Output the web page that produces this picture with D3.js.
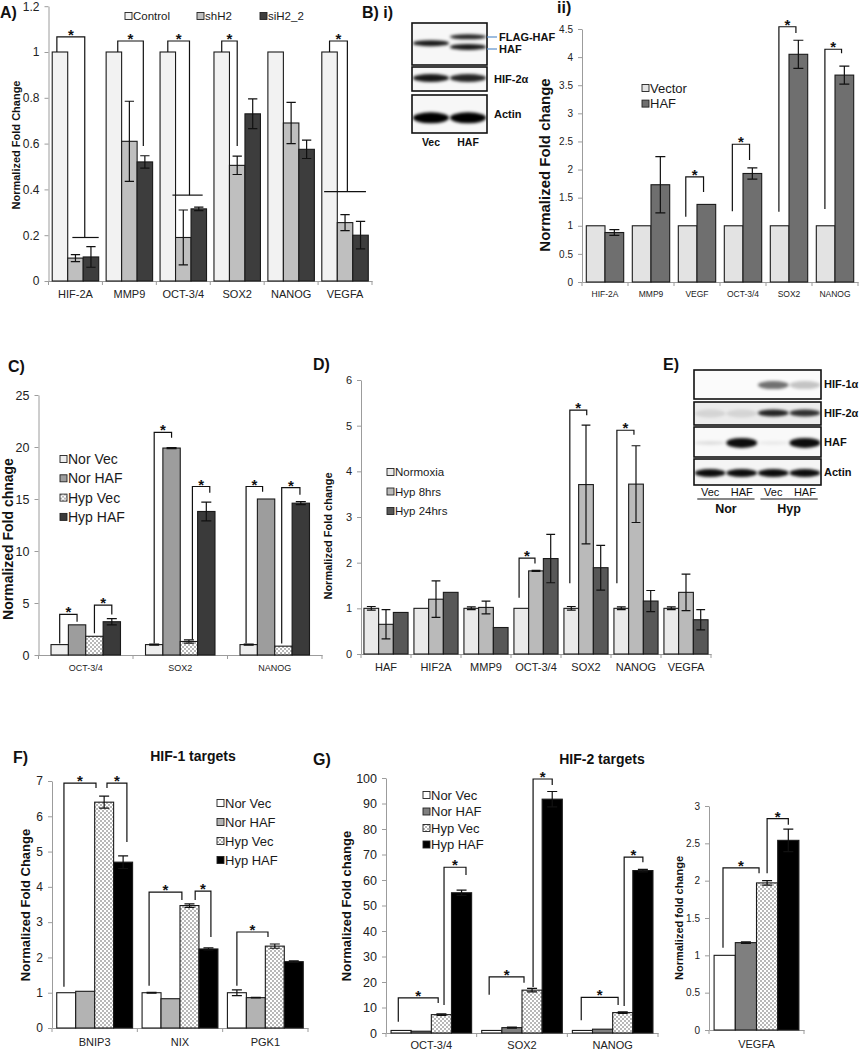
<!DOCTYPE html>
<html lang="en">
<head>
<meta charset="utf-8" />
<style>
  body { margin: 0; background: #fff; }
  svg { display: block; font-family: Arial, "Liberation Sans", sans-serif; }
  .axis path, .axis line, .divider { stroke: #9c9c9c; stroke-width: 1px; }
  .axis text { fill: #222; }
  .brk, .err { fill: none; stroke: #111; stroke-width: 1.2px; }
  .star { font-weight: bold; font-size: 15px; text-anchor: middle; fill: #111; }
  .ylab { font-weight: bold; text-anchor: middle; fill: #111; }
  .plabel { font-weight: bold; font-size: 16px; fill: #111; }
  .leg { fill: #1a1a1a; }
  .blotlab { font-weight: bold; font-size: 11px; fill: #111; }
</style>
</head>
<body>
<svg width="859" height="1050"></svg>
<script src="https://d3js.org/d3.v7.min.js"></script>
<script>
// ---- A) HIF-2 knockdown ----
var catsA = ["HIF-2A", "MMP9", "OCT-3/4", "SOX2", "NANOG", "VEGFA"],
    namesA = ["Control", "shH2", "siH2_2"],
    controlA = [1, 1, 1, 1, 1, 1],
    shH2A = [0.10, 0.61, 0.19, 0.505, 0.69, 0.255],
    siH2A = [0.105, 0.52, 0.315, 0.73, 0.575, 0.20],
    controlErrA = [0, 0, 0, 0, 0, 0],
    shH2ErrA = [0.015, 0.175, 0.12, 0.04, 0.09, 0.035],
    siH2ErrA = [0.045, 0.027, 0.008, 0.065, 0.04, 0.06];
// [category, from bar, to bar, left start, top, right end]
var bracketsA = [[0, -0.2, 1.6, 1, 1.066, 0.19], [1, 0.25, 1.9, 1, 1.048, 0.59],
                 [2, 0, 1.4, 1, 1.048, 0.375], [3, 0, 1.0, 1, 1.048, 0.59],
                 [5, 0, 1.15, 1, 1.048, 0.39]];
var linesA = [[0, 0.8, 2.5, 0.19], [2, 0.3, 2.25, 0.375], [5, -0.35, 2.35, 0.39]];

// ---- B ii) HAF overexpression ----
var catsB = ["HIF-2A", "MMP9", "VEGF", "OCT-3/4", "SOX2", "NANOG"],
    namesB = ["Vector", "HAF"],
    vectorB = [1, 1, 1, 1, 1, 1],
    hafB = [0.88, 1.73, 1.38, 1.93, 4.05, 3.68],
    vectorErrB = [0, 0, 0, 0, 0, 0],
    hafErrB = [0.05, 0.5, 0, 0.1, 0.25, 0.16];
var bracketsB = [[2, -0.1, 0.85, 1.16, 1.87, 1.6], [3, -0.07, 0.85, 1.26, 2.45, 2.17],
                 [4, -0.04, 0.87, 1.25, 4.54, 4.43], [5, -0.04, 0.85, 1.3, 4.14, 4.07]];

// ---- C) Normoxia / hypoxia with HAF ----
var catsC = ["OCT-3/4", "SOX2", "NANOG"],
    namesC = ["Nor Vec", "Nor HAF", "Hyp Vec", "Hyp HAF"],
    norVecC = [1, 1, 1],
    norHafC = [2.9, 19.9, 15.0],
    hypVecC = [1.8, 1.3, 0.85],
    hypHafC = [3.2, 13.8, 14.6],
    norVecErrC = [0, 0.05, 0.05],
    norHafErrC = [0, 0.05, 0],
    hypVecErrC = [0, 0.15, 0],
    hypHafErrC = [0.3, 0.9, 0.15];
var bracketsC = [[0, 0, 1, 1.1, 3.9, 3.2], [0, 2.0, 3.0, 2.1, 4.8, 3.9],
                 [1, 0, 1, 1.1, 21.4, 20.9], [1, 2.2, 3.2, 1.5, 16.2, 15.6],
                 [2, -0.15, 0.8, 1.1, 16.2, 15.7], [2, 1.9, 2.95, 1.1, 16.1, 15.4]];

// ---- D) Hypoxia time course ----
var catsD = ["HAF", "HIF2A", "MMP9", "OCT-3/4", "SOX2", "NANOG", "VEGFA"],
    namesD = ["Normoxia", "Hyp 8hrs", "Hyp 24hrs"],
    normD = [1, 1, 1, 1, 1, 1, 1],
    hyp8D = [0.65, 1.2, 1.02, 1.82, 3.71, 3.72, 1.35],
    hyp24D = [0.91, 1.35, 0.58, 2.09, 1.89, 1.16, 0.75],
    normErrD = [0.04, 0, 0.03, 0, 0.04, 0.03, 0.03],
    hyp8ErrD = [0.32, 0.4, 0.14, 0.01, 1.3, 0.84, 0.4],
    hyp24ErrD = [0, 0, 0, 0.53, 0.49, 0.23, 0.22];
var bracketsD = [[3, -0.15, 0.93, 1.23, 2.1, 1.98], [4, -0.1, 1.05, 1.55, 5.34, 5.23],
                 [5, -0.3, 0.86, 1.55, 4.9, 4.8]];

// ---- F) HIF-1 targets ----
var catsF = ["BNIP3", "NIX", "PGK1"],
    namesF = ["Nor Vec", "Nor HAF", "Hyp Vec", "Hyp HAF"],
    norVecF = [1, 1, 1],
    norHafF = [1.04, 0.83, 0.86],
    hypVecF = [6.4, 3.47, 2.32],
    hypHafF = [4.7, 2.24, 1.88],
    norVecErrF = [0, 0.01, 0.08],
    norHafErrF = [0, 0, 0.01],
    hypVecErrF = [0.17, 0.05, 0.06],
    hypHafErrF = [0.18, 0.03, 0.02];
var bracketsF = [[0, -0.12, 1.57, 1.17, 6.94, 6.8], [0, 2.15, 3.2, 6.8, 6.94, 5.27],
                 [1, -0.13, 1.6, 1.2, 3.85, 3.63], [1, 2.3, 3.13, 3.63, 3.88, 2.58],
                 [2, 0, 1.64, 1.2, 2.72, 2.58]];

// ---- G) HIF-2 targets ----
var catsG = ["OCT-3/4", "SOX2", "NANOG"],
    namesG = ["Nor Vec", "Nor HAF", "Hyp Vec", "Hyp HAF"],
    norVecG = [1, 1, 1],
    norHafG = [0.7, 2.1, 1.5],
    hypVecG = [7.2, 16.8, 8.0],
    hypHafG = [55, 91.7, 63.7],
    norVecErrG = [0, 0, 0],
    norHafErrG = [0, 0.2, 0],
    hypVecErrG = [0.3, 0.7, 0.3],
    hypHafErrG = [1.0, 3.0, 0.5];
var bracketsG = [[0, -0.14, 1.84, 4.4, 13.8, 11.8], [0, 2.13, 3.22, 11, 65, 62],
                 [1, -0.13, 1.6, 15, 22, 19.7], [1, 2.05, 3.0, 18, 99.6, 97.3],
                 [2, -0.06, 1.77, 5, 14, 11], [2, 2.07, 3.0, 10.6, 69, 67]];

var catsG2 = ["VEGFA"],
    norVecG2 = [1], norHafG2 = [1.17], hypVecG2 = [1.97], hypHafG2 = [2.54],
    norVecErrG2 = [0], norHafErrG2 = [0.01], hypVecErrG2 = [0.03], hypHafErrG2 = [0.15];
var bracketsG2 = [[0, -0.08, 1.62, 1.1, 2.17, 2.1], [0, 2.0, 3.0, 2.1, 2.83, 2.75]];

// ---- western blots: [row, lane, position in box, darkness, half thickness] ----
var rowsBi = ["", "HIF-2\u03b1", "Actin"],
    bandsBi = [[0, 0, 0.48, 0.9, 3], [0, 1, 0.33, 0.85, 2.5], [0, 1, 0.57, 0.9, 3],
               [1, 0, 0.46, 0.9, 4], [1, 1, 0.46, 0.85, 4],
               [2, 0, 0.6, 1, 5.5], [2, 1, 0.6, 1, 5.5]],
    lanesBi = ["Vec", "HAF"];
var rowsE = ["HIF-1\u03b1", "HIF-2\u03b1", "HAF", "Actin"],
    bandsE = [[0, 2, 0.52, 0.55, 4], [0, 3, 0.52, 0.22, 4],
              [1, 0, 0.5, 0.1, 4], [1, 1, 0.5, 0.1, 4], [1, 2, 0.48, 0.85, 3.5], [1, 3, 0.48, 0.8, 3.5],
              [2, 0, 0.53, 0.1, 2], [2, 1, 0.53, 0.95, 5], [2, 2, 0.53, 0.06, 2], [2, 3, 0.53, 0.95, 5],
              [3, 0, 0.54, 0.95, 4], [3, 1, 0.54, 0.95, 4], [3, 2, 0.54, 0.95, 4], [3, 3, 0.54, 0.95, 4]],
    lanesE = ["Vec", "HAF", "Vec", "HAF"];

var svg = d3.select("svg");
var defs = svg.append("defs");

var pat = defs.append("pattern").attr("id", "checks")
  .attr("width", 4).attr("height", 4).attr("patternUnits", "userSpaceOnUse");
pat.append("rect").attr("width", 4).attr("height", 4).attr("fill", "#fff");
pat.append("rect").attr("width", 2).attr("height", 2).attr("fill", "#b8b8b8");
pat.append("rect").attr("x", 2).attr("y", 2).attr("width", 2).attr("height", 2).attr("fill", "#b8b8b8");

defs.append("filter").attr("id", "blur").attr("x", "-30%").attr("y", "-100%")
  .attr("width", "160%").attr("height", "300%")
  .append("feGaussianBlur").attr("stdDeviation", 1.4);

function barPanel(p) {
  var g = svg.append("g");
  var x0 = d3.scaleBand().domain(p.cats).range(p.xr);
  var x1 = d3.scaleBand().domain(d3.range(p.values.length))
    .range([0, x0.bandwidth()]).paddingInner(0).paddingOuter(p.pad);
  var y = d3.scaleLinear().domain([0, p.max]).range(p.yr);
  var bw = x1.bandwidth();
  var bx = function(c, s) { return x0(p.cats[c]) + x1(0) + (s + 0.5) * bw; };

  var ya = g.append("g").attr("class", "axis")
    .attr("transform", "translate(" + p.xr[0] + ",0)")
    .call(d3.axisLeft(y)
      .tickValues(d3.range(0, p.max + 1e-9, p.step))
      .tickSize(4).tickSizeOuter(0).tickPadding(5)
      .tickFormat(function(d) { return +d.toFixed(1); }));
  ya.attr("font-family", null).attr("font-size", p.tickFont);

  var xa = g.append("g").attr("class", "axis")
    .attr("transform", "translate(0," + p.yr[0] + ")")
    .call(d3.axisBottom(x0).tickSize(0).tickSizeOuter(0).tickPadding(p.xPad));
  xa.attr("font-family", null).attr("font-size", p.xFont);

  g.append("g").selectAll("line").data(d3.range(p.cats.length + 1)).join("line")
    .attr("class", "divider")
    .attr("x1", function(i) { return p.xr[0] + i * x0.step(); })
    .attr("x2", function(i) { return p.xr[0] + i * x0.step(); })
    .attr("y1", p.yr[0]).attr("y2", p.yr[0] + 4);

  p.values.forEach(function(vals, s) {
    g.append("g").selectAll("rect").data(vals).join("rect")
      .attr("x", function(d, i) { return x0(p.cats[i]) + x1(s); })
      .attr("y", function(d) { return y(d); })
      .attr("width", bw)
      .attr("height", function(d) { return y(0) - y(d); })
      .attr("fill", p.fills[s])
      .attr("stroke", "#1a1a1a").attr("stroke-width", 1.1);

    var errs = vals.map(function(d, i) { return {v: d, e: p.errs[s][i], i: i}; })
      .filter(function(d) { return d.e > 0; });
    g.append("g").selectAll("path").data(errs).join("path")
      .attr("class", "err")
      .attr("d", function(d) {
        var cx = x0(p.cats[d.i]) + x1(s) + bw / 2, w = Math.min(bw * 0.3, 5),
            hi = y(d.v + d.e), lo = y(d.v - d.e);
        return "M" + (cx - w) + "," + hi + "h" + 2 * w + "M" + cx + "," + hi + "V" + lo +
               "M" + (cx - w) + "," + lo + "h" + 2 * w;
      });
  });

  g.append("g").selectAll("path").data(p.brackets).join("path")
    .attr("class", "brk")
    .attr("d", function(b) {
      return "M" + bx(b[0], b[1]) + "," + y(b[3]) + "V" + y(b[4]) +
             "H" + bx(b[0], b[2]) + "V" + y(b[5]);
    });
  g.append("g").selectAll("text").data(p.brackets).join("text")
    .attr("class", "star")
    .attr("x", function(b) { return (bx(b[0], b[1]) + bx(b[0], b[2])) / 2; })
    .attr("y", function(b) { return y(b[4]) + 3; })
    .text("*");
  g.append("g").selectAll("path").data(p.lines || []).join("path")
    .attr("class", "brk")
    .attr("d", function(l) { return "M" + bx(l[0], l[1]) + "," + y(l[3]) + "H" + bx(l[0], l[2]); });

  if (p.legend) {
    var L = p.legend;
    var items = g.append("g").selectAll("g").data(L.names).join("g")
      .attr("transform", function(d, i) {
        var lx = L.xs ? L.xs[i] : L.x, ly = L.xs ? L.y : L.y + i * L.dy;
        return "translate(" + lx + "," + ly + ")";
      });
    items.append("rect").attr("x", 0).attr("y", -3.5).attr("width", 7).attr("height", 7)
      .attr("fill", function(d, i) { return p.fills[i]; })
      .attr("stroke", "#222").attr("stroke-width", 0.9);
    items.append("text").attr("class", "leg").attr("x", 8).attr("dy", "0.36em")
      .attr("font-size", L.font).text(function(d) { return d; });
  }

  g.append("text").attr("class", "ylab")
    .attr("transform", "translate(" + p.ylab[1] + "," + p.ylab[2] + ") rotate(-90)")
    .attr("font-size", p.ylab[3]).text(p.ylab[0]);
}

function blot(b) {
  var g = svg.append("g");
  var lane = d3.scaleBand().domain(d3.range(b.lanes.length))
    .range([b.x, b.x + b.w]).paddingInner(0.06).paddingOuter(0.04);
  b.rows.forEach(function(label, ri) {
    var r = b.boxes[ri], id = b.id + ri;
    defs.append("clipPath").attr("id", id).append("rect")
      .attr("x", b.x).attr("y", r[0]).attr("width", b.w).attr("height", r[1]);
    g.append("rect").attr("x", b.x).attr("y", r[0]).attr("width", b.w).attr("height", r[1])
      .attr("fill", r[2] || "#f7f7f7");
    g.append("g").attr("clip-path", "url(#" + id + ")")
      .selectAll("ellipse").data(b.bands.filter(function(d) { return d[0] === ri; })).join("ellipse")
      .attr("cx", function(d) { return lane(d[1]) + lane.bandwidth() / 2; })
      .attr("cy", function(d) { return r[0] + d[2] * r[1]; })
      .attr("rx", lane.bandwidth() * 0.52)
      .attr("ry", function(d) { return d[4]; })
      .attr("fill", "#000").attr("fill-opacity", function(d) { return d[3]; })
      .attr("filter", "url(#blur)");
    g.append("rect").attr("x", b.x).attr("y", r[0]).attr("width", b.w).attr("height", r[1])
      .attr("fill", "none").attr("stroke", "#111").attr("stroke-width", 1.6);
    if (label) {
      g.append("text").attr("class", "blotlab").attr("x", b.x + b.w + b.labDx)
        .attr("y", r[0] + r[1] / 2).attr("dy", "0.36em").text(label);
    }
  });
  g.append("g").selectAll("text").data(b.lanes).join("text")
    .attr("x", function(d, i) { return lane(i) + lane.bandwidth() / 2; })
    .attr("y", b.laneY).attr("text-anchor", "middle")
    .attr("font-size", b.laneFont).attr("font-weight", b.laneBold ? "bold" : null)
    .attr("fill", "#111").text(function(d) { return d; });
  return lane;
}

// A
barPanel({
  cats: catsA, values: [controlA, shH2A, siH2A], errs: [controlErrA, shH2ErrA, siH2ErrA],
  fills: ["#f2f2f2", "#bfbfbf", "#3d3d3d"],
  xr: [48.5, 372], yr: [281, 6.2], max: 1.2, step: 0.2, pad: 0.24,
  tickFont: 12, xFont: 11, xPad: 9,
  brackets: bracketsA, lines: linesA,
  legend: {names: namesA, xs: [125, 197, 260], y: 16, font: 11.5},
  ylab: ["Normalized Fold Change", 20, 145, 11]
});

// B ii
barPanel({
  cats: catsB, values: [vectorB, hafB], errs: [vectorErrB, hafErrB],
  fills: ["#e3e3e3", "#6f6f6f"],
  xr: [582, 858], yr: [282, 29], max: 4.5, step: 0.5, pad: 0.23,
  tickFont: 10, xFont: 8.5, xPad: 9,
  brackets: bracketsB,
  legend: {names: namesB, x: 642, y: 88, dy: 15.6, font: 13},
  ylab: ["Normalized Fold change", 550, 165, 15]
});

// C
barPanel({
  cats: catsC, values: [norVecC, norHafC, hypVecC, hypHafC],
  errs: [norVecErrC, norHafErrC, hypVecErrC, hypHafErrC],
  fills: ["#eeeeee", "#9d9d9d", "url(#checks)", "#3a3a3a"],
  xr: [38.5, 322], yr: [655, 395], max: 25, step: 5, pad: 0.72,
  tickFont: 12.5, xFont: 9, xPad: 10,
  brackets: bracketsC,
  legend: {names: namesC, x: 60, y: 459, dy: 19.3, font: 14},
  ylab: ["Normalized Fold chnage", 13, 539, 14]
});

// D
barPanel({
  cats: catsD, values: [normD, hyp8D, hyp24D], errs: [normErrD, hyp8ErrD, hyp24ErrD],
  fills: ["#eaeaea", "#bababa", "#575757"],
  xr: [361, 711], yr: [654, 380], max: 6, step: 1, pad: 0.2,
  tickFont: 11, xFont: 11, xPad: 9,
  brackets: bracketsD,
  legend: {names: namesD, x: 387, y: 472, dy: 19.5, font: 11.5},
  ylab: ["Normalized Fold change", 332, 536, 11]
});

// F
barPanel({
  cats: catsF, values: [norVecF, norHafF, hypVecF, hypHafF],
  errs: [norVecErrF, norHafErrF, hypVecErrF, hypHafErrF],
  fills: ["#ffffff", "#b3b3b3", "url(#checks)", "#000000"],
  xr: [52, 308], yr: [1028, 781], max: 7, step: 1, pad: 0.25,
  tickFont: 12, xFont: 11, xPad: 10,
  brackets: bracketsF,
  legend: {names: namesF, x: 217, y: 803, dy: 19, font: 13},
  ylab: ["Normalized  Fold Change", 30, 905, 13]
});

// G
barPanel({
  cats: catsG, values: [norVecG, norHafG, hypVecG, hypHafG],
  errs: [norVecErrG, norHafErrG, hypVecErrG, hypHafErrG],
  fills: ["#ffffff", "#7f7f7f", "url(#checks)", "#000000"],
  xr: [386, 658], yr: [1033, 778], max: 100, step: 10, pad: 0.25,
  tickFont: 12.5, xFont: 11, xPad: 8,
  brackets: bracketsG,
  legend: {names: namesG, x: 423, y: 795, dy: 16.5, font: 13},
  ylab: ["Normalized Fold change", 351, 906, 13]
});

barPanel({
  cats: catsG2, values: [norVecG2, norHafG2, hypVecG2, hypHafG2],
  errs: [norVecErrG2, norHafErrG2, hypVecErrG2, hypHafErrG2],
  fills: ["#ffffff", "#7f7f7f", "url(#checks)", "#000000"],
  xr: [709, 804], yr: [1030, 806], max: 3, step: 0.5, pad: 0.24,
  tickFont: 10, xFont: 11, xPad: 10,
  brackets: bracketsG2,
  ylab: ["Normalized fold change", 683, 918, 11]
});

// B i blot
blot({
  id: "bi", x: 412, w: 75, rows: rowsBi, bands: bandsBi, lanes: lanesBi,
  boxes: [[23, 42], [67, 24], [95, 38]], labDx: 7,
  laneY: 146, laneFont: 10.5, laneBold: true
});
svg.append("g").selectAll("line").data([37, 49]).join("line")
  .attr("x1", 487).attr("x2", 497).attr("y1", function(d) { return d; }).attr("y2", function(d) { return d; })
  .attr("stroke", "#5b8fc9").attr("stroke-width", 1.2);
svg.append("g").selectAll("text").data([["FLAG-HAF", 37], ["HAF", 49]]).join("text")
  .attr("class", "blotlab").attr("x", 499).attr("y", function(d) { return d[1]; })
  .attr("dy", "0.36em").text(function(d) { return d[0]; });

// E blot
var laneE = blot({
  id: "e", x: 694, w: 127, rows: rowsE, bands: bandsE, lanes: lanesE,
  boxes: [[370, 29, "#fbfbfb"], [402, 23, "#ececec"], [427, 30, "#f9f9f9"], [459, 26, "#f5f5f5"]],
  labDx: 3, laneY: 496, laneFont: 11, laneBold: false
});
[["Nor", 0], ["Hyp", 2]].forEach(function(c) {
  var xa = laneE(c[1]) + 2, xb = laneE(c[1] + 1) + laneE.bandwidth() - 2;
  svg.append("line").attr("x1", xa).attr("x2", xb).attr("y1", 499).attr("y2", 499)
    .attr("stroke", "#111").attr("stroke-width", 1.2);
  svg.append("text").attr("x", (xa + xb) / 2).attr("y", 513).attr("text-anchor", "middle")
    .attr("font-weight", "bold").attr("font-size", 12.5).attr("fill", "#111").text(c[0]);
});

// panel letters and titles
var plabels = [["A)", 0, 18], ["B) i)", 362, 18], ["ii)", 557, 13], ["C)", 8, 372],
               ["D)", 313, 370], ["E)", 663, 370], ["F)", 13, 763], ["G)", 313, 765]];
svg.append("g").selectAll("text").data(plabels).join("text")
  .attr("class", "plabel").attr("x", function(d) { return d[1]; }).attr("y", function(d) { return d[2]; })
  .text(function(d) { return d[0]; });
svg.append("g").selectAll("text").data([["HIF-1 targets", 193, 761], ["HIF-2 targets", 602, 764]]).join("text")
  .attr("x", function(d) { return d[1]; }).attr("y", function(d) { return d[2]; })
  .attr("text-anchor", "middle").attr("font-weight", "bold").attr("font-size", 14).attr("fill", "#111")
  .text(function(d) { return d[0]; });
</script>
</body>
</html>
